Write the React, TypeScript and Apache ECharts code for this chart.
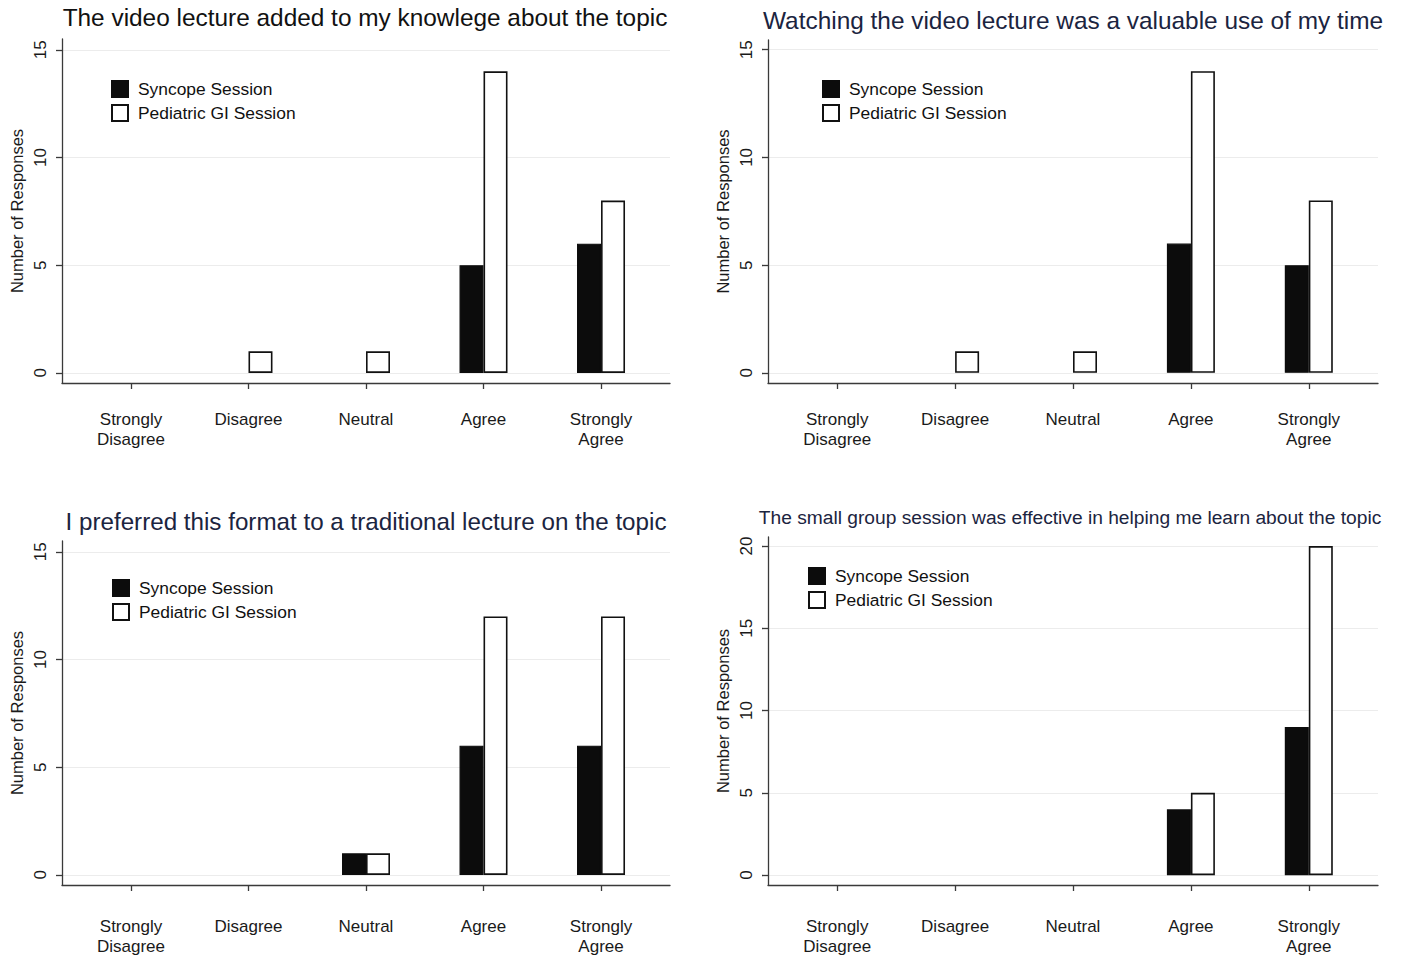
import React, { useEffect, useRef } from "react";
import * as echarts from "echarts";

const categories = ["Strongly Disagree", "Disagree", "Neutral", "Agree", "Strongly Agree"];
const categoryPositions = [0, 1, 2, 3, 4];
const seriesNames = ["Syncope Session", "Pediatric GI Session"];

const titles = [
  "The video lecture added to my knowlege about the topic",
  "Watching the video lecture was a valuable use of my time",
  "I preferred this format to a traditional lecture on the topic",
  "The small group session was effective in helping me learn about the topic",
];

const syncopeKnowledge = [0, 0, 0, 5, 6];
const giKnowledge = [0, 1, 1, 14, 8];
const syncopeValuable = [0, 0, 0, 6, 5];
const giValuable = [0, 1, 1, 14, 8];
const syncopePreferred = [0, 0, 1, 6, 6];
const giPreferred = [0, 0, 1, 12, 12];
const syncopeSmallGroup = [0, 0, 0, 4, 9];
const giSmallGroup = [0, 0, 0, 5, 20];

const yTicks15 = [0, 5, 10, 15];
const yTicks20 = [0, 5, 10, 15, 20];

const FONT = "Liberation Sans, Arial, Helvetica, sans-serif";

const panels = [
  { grid: { left: 62, top: 39, width: 608, height: 344 }, yMin: -0.47, yMax: 15.5, ticks: yTicks15, syn: syncopeKnowledge, gi: giKnowledge,
    title: { x: 365, y: 17, size: 24.4, color: "#111111" }, legend: { left: 111, top: 80 }, labelMargin: 26 },
  { grid: { left: 768, top: 40, width: 610, height: 343 }, yMin: -0.47, yMax: 15.45, ticks: yTicks15, syn: syncopeValuable, gi: giValuable,
    title: { x: 1073, y: 20, size: 24.4, color: "#1b2440" }, legend: { left: 822, top: 80 }, labelMargin: 26 },
  { grid: { left: 62, top: 541, width: 608, height: 344 }, yMin: -0.47, yMax: 15.5, ticks: yTicks15, syn: syncopePreferred, gi: giPreferred,
    title: { x: 366, y: 521, size: 24.2, color: "#1b2440" }, legend: { left: 112, top: 579 }, labelMargin: 31 },
  { grid: { left: 768, top: 537, width: 610, height: 348 }, yMin: -0.6, yMax: 20.55, ticks: yTicks20, syn: syncopeSmallGroup, gi: giSmallGroup,
    title: { x: 1070, y: 517, size: 19.2, color: "#1b2440" }, legend: { left: 808, top: 567 }, labelMargin: 31 },
];

function toPoints(values: number[]) {
  return values.map((v, i) => [categoryPositions[i], v]).filter((d) => d[1] > 0);
}

export default function App() {
  const ref = useRef<HTMLDivElement>(null);
  useEffect(() => {
    document.body.style.margin = "0";
    document.body.style.background = "#ffffff";
    const chart = echarts.init(ref.current!, null, { renderer: "svg" });
    const axisColor = "#3a3a3a";
    const option: any = {
      animation: false,
      backgroundColor: "#ffffff",
      textStyle: { fontFamily: FONT },
      grid: panels.map((p) => ({ ...p.grid, containLabel: false })),
      xAxis: panels.map((p, i) => ({
        gridIndex: i,
        type: "value",
        min: -0.587,
        max: 4.587,
        axisLine: { show: true, onZero: false, lineStyle: { color: axisColor, width: 1.3 } },
        axisTick: { show: true, customValues: categoryPositions, length: 6, lineStyle: { color: axisColor, width: 1.3 } },
        axisLabel: {
          customValues: categoryPositions,
          formatter: (v: number) => categories[Math.round(v)].replace(" ", "\n"),
          fontSize: 17,
          lineHeight: 20,
          color: "#1a1a1a",
          margin: p.labelMargin,
          fontFamily: FONT,
        },
        splitLine: { show: false },
      })),
      yAxis: panels.map((p, i) => ({
        gridIndex: i,
        type: "value",
        min: p.yMin,
        max: p.yMax,
        axisLine: { show: true, onZero: false, lineStyle: { color: axisColor, width: 1.3 } },
        axisTick: { show: true, customValues: p.ticks, length: 6, lineStyle: { color: axisColor, width: 1.3 } },
        axisLabel: { customValues: p.ticks, rotate: 90, fontSize: 17, color: "#1a1a1a", margin: 13, fontFamily: FONT },
        splitLine: { show: true, lineStyle: { color: "#ececec", width: 1.2 } },
        name: "Number of Responses",
        nameLocation: "middle",
        nameRotate: 90,
        nameGap: 37,
        nameTextStyle: { fontSize: 16.5, color: "#1a1a1a", fontFamily: FONT },
      })),
      legend: panels.map((p) => ({
        left: p.legend.left,
        top: p.legend.top,
        padding: 0,
        orient: "vertical",
        icon: "rect",
        itemWidth: 16,
        itemHeight: 16,
        itemGap: 6,
        selectedMode: false,
        data: seriesNames,
        textStyle: { fontSize: 17.4, color: "#111111", fontFamily: FONT, padding: [0, 0, 0, 5] },
      })),
      graphic: panels.map((p, i) => ({
        type: "text",
        x: p.title.x,
        y: p.title.y,
        style: {
          text: titles[i],
          fontSize: p.title.size,
          fontFamily: FONT,
          fill: p.title.color,
          textAlign: "center",
          textVerticalAlign: "middle",
        },
      })),
      series: panels.flatMap((p, i) => [
        {
          type: "bar",
          name: seriesNames[0],
          xAxisIndex: i,
          yAxisIndex: i,
          barWidth: 24,
          barGap: "0%",
          data: toPoints(p.syn),
          itemStyle: { color: "#0c0c0c", borderColor: "#0c0c0c", borderWidth: 1.2 },
        },
        {
          type: "bar",
          name: seriesNames[1],
          xAxisIndex: i,
          yAxisIndex: i,
          barWidth: 24,
          barGap: "0%",
          data: toPoints(p.gi),
          itemStyle: { color: "#ffffff", borderColor: "#111111", borderWidth: 1.6 },
        },
      ]),
    };
    chart.setOption(option);
    return () => chart.dispose();
  }, []);
  return <div ref={ref} style={{ width: 1402, height: 956 }} />;
}
